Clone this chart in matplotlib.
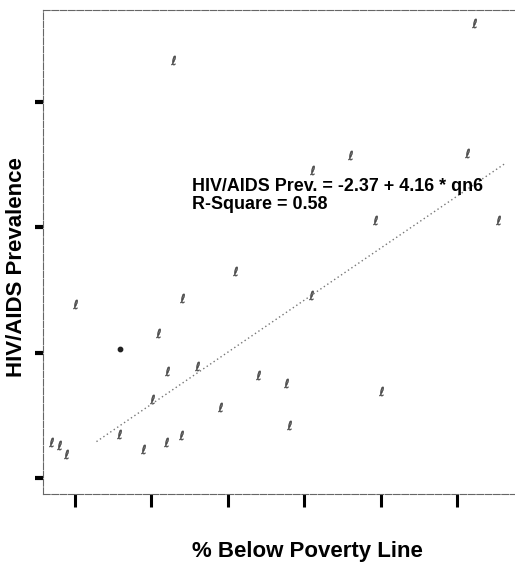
import numpy as np
import matplotlib
matplotlib.use("Agg")
import matplotlib.pyplot as plt

# proportion below poverty line (qn6) and HIV/AIDS prevalence
poverty = [0.069, 0.079, 0.088, 0.100, 0.158, 0.189, 0.201, 0.209, 0.219, 0.220,
           0.239, 0.240, 0.260, 0.290, 0.309, 0.340, 0.376, 0.380, 0.409, 0.410,
           0.460, 0.493, 0.501, 0.613, 0.622, 0.654, 0.228]
prevalence = [-1.71, -1.74, -1.81, -0.61, -1.65, -1.77, -1.37, -0.84, -1.71, -1.15,
              -1.66, -0.56, -1.11, -1.43, -0.35, -1.18, -1.24, -1.58, -0.54, 0.46,
              0.58, 0.06, -1.31, 0.59, 1.63, 0.06, 1.34]
# one point printed as a solid dot
dot_x = [0.159]
dot_y = [-0.97]

# fitted line as it appears on the chart
fit_x = [0.128, 0.663]
fit_y = [-1.71, 0.51]

x_ticks = [0.1, 0.2, 0.3, 0.4, 0.5, 0.6]
y_ticks = [-2, -1, 0, 1]

fig = plt.figure(figsize=(5.15, 5.63), dpi=100)
ax = fig.add_axes([0.0835, 0.1226, 0.9165, 0.8596])

ax.scatter(poverty, prevalence, marker=r"$\ell$", s=45, color="#444444", linewidths=0.3)
ax.scatter(dot_x, dot_y, marker="o", s=10, color="#222222")
ax.plot(fit_x, fit_y, linestyle=(0, (1, 2)), color="#777777", linewidth=1.0)

ax.set_xlim(0.058, 0.676)
ax.set_ylim(-2.128, 1.735)
ax.set_xticks(x_ticks)
ax.set_yticks(y_ticks)
ax.set_xticklabels([])
ax.set_yticklabels([])
ax.tick_params(axis="x", direction="out", length=9, width=2.2, color="black")
ax.tick_params(axis="y", direction="out", length=6, width=3, color="black")

for side in ["left", "top", "bottom"]:
    ax.spines[side].set_color("#666666")
    ax.spines[side].set_linewidth(0.8)
    ax.spines[side].set_linestyle((0, (6, 1.5)))
ax.spines["right"].set_visible(False)

fig.text(0.3728, 0.6613, "HIV/AIDS Prev. = -2.37 + 4.16 * qn6", fontsize=12.9,
         fontweight="bold", family="Liberation Sans", va="baseline", ha="left")
fig.text(0.3728, 0.6288, "R-Square = 0.58", fontsize=12.9,
         fontweight="bold", family="Liberation Sans", va="baseline", ha="left")

fig.text(0.033, 0.526, "HIV/AIDS Prevalence", rotation=90, fontsize=16,
         fontweight="bold", family="Liberation Sans", ha="center", va="center")
fig.text(0.596, 0.011, "% Below Poverty Line", fontsize=16,
         fontweight="bold", family="Liberation Sans", ha="center", va="baseline")

fig.savefig("out.png", dpi=100)
